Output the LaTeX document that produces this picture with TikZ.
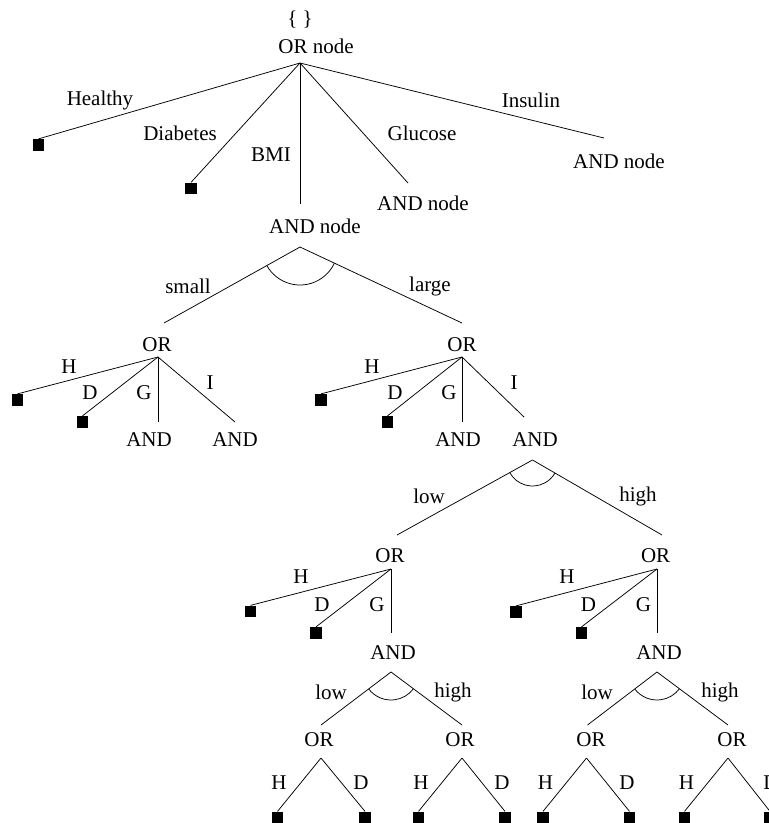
\documentclass[tikz,border=0pt]{standalone}
\usepackage{fontspec}
\setmainfont{Liberation Serif}
\usepackage{tikz}

\begin{document}
\begin{tikzpicture}[x=1pt,y=-1pt,line width=0.75pt]
 \useasboundingbox (0,0) rectangle (769,823);
 \clip (0,0) rectangle (769,823);
 \tikzstyle{every node} = [font=\fontsize{21}{25}\selectfont,inner sep=0pt]
 \tikzstyle{leaf} = [fill=black,minimum size=11.5pt]
 % root
 \node (braces) at (300,20) {\{ \}};
 \node (orTop) at (316,46) {OR node};
 \coordinate (orTopB) at (300,63);
 \node[leaf] (healthy) at (38.5,145) {};
 \node[leaf] (diabetes) at (191,188.5) {};
 \coordinate (bmiT) at (300,204);
 \node (bmi) at (315,226) {AND node};
 \coordinate (bmiB) at (300,247);
 \coordinate (gluT) at (408,183);
 \node (glu) at (423,203) {AND node};
 \coordinate (insT) at (604,138);
 \node (ins) at (619,161) {AND node};
 \node (tHealthy) at (100,100) {Healthy};
 \node (tDiabetes) at (180,133) {Diabetes};
 \node (tBmi) at (271,155) {BMI};
 \node (tGlucose) at (422,133) {Glucose};
 \node (tInsulin) at (531,100) {Insulin};
 \draw (orTopB) -- (healthy.north);
 \draw (orTopB) -- (diabetes.north);
 \draw (orTopB) -- (bmiT);
 \draw (orTopB) -- (gluT);
 \draw (orTopB) -- (insT);
 % BMI split
 \coordinate (smallT) at (164,323);
 \node (orS) at (157,345) {OR};
 \coordinate (orSB) at (158,357);
 \coordinate (largeT) at (462,323);
 \node (orL) at (462,345) {OR};
 \coordinate (orLB) at (462,357);
 \node (tSmall) at (188,286) {small};
 \node (tLarge) at (430,286) {large};
 \draw (bmiB) -- (smallT);
 \draw (bmiB) -- (largeT);
 \draw (bmiB) ++(150.8:38) arc[start angle=150.8,end angle=25.1,radius=38];
 % small BMI
 \node[leaf] (sH) at (17.5,400) {};
 \node[leaf] (sD) at (82.5,422) {};
 \coordinate (sGT) at (158,422);
 \node (sG) at (149,440) {AND};
 \coordinate (sIT) at (235,422);
 \node (sI) at (235,440) {AND};
 \node (tsH) at (69,367) {H};
 \node (tsD) at (90,393) {D};
 \node (tsG) at (144,393) {G};
 \node (tsI) at (210,383) {I};
 \draw (orSB) -- (sH.north);
 \draw (orSB) -- (sD.north);
 \draw (orSB) -- (sGT);
 \draw (orSB) -- (sIT);
 % large BMI
 \node[leaf] (lH) at (321,400) {};
 \node[leaf] (lD) at (387.5,422) {};
 \coordinate (lGT) at (462,422);
 \node (lG) at (458,440) {AND};
 \coordinate (lIT) at (524,417);
 \node (lI) at (535,440) {AND};
 \coordinate (lIB) at (532.5,460);
 \node (tlH) at (372,367) {H};
 \node (tlD) at (395,393) {D};
 \node (tlG) at (449,393) {G};
 \node (tlI) at (514,383) {I};
 \draw (orLB) -- (lH.north);
 \draw (orLB) -- (lD.north);
 \draw (orLB) -- (lGT);
 \draw (orLB) -- (lIT);
 % insulin split
 \coordinate (lowT) at (397,535);
 \node (orLo) at (390,556) {OR};
 \coordinate (orLoB) at (391,569);
 \coordinate (highT) at (662,535);
 \node (orHi) at (655.6,556) {OR};
 \coordinate (orHiB) at (657,569);
 \node (tLow) at (429,496) {low};
 \node (tHigh) at (638,496) {high};
 \draw (lIB) -- (lowT);
 \draw (lIB) -- (highT);
 \draw (lIB) ++(151:26) arc[start angle=151,end angle=30.1,radius=26];
 % low insulin
 \node[leaf] (loH) at (250.5,611.5) {};
 \node[leaf] (loD) at (316,633) {};
 \coordinate (loGT) at (391,633);
 \node (loG) at (393,653) {AND};
 \coordinate (loGB) at (391,672);
 \node (tloH) at (301,577) {H};
 \node (tloD) at (322,605) {D};
 \node (tloG) at (377,605) {G};
 \draw (orLoB) -- (loH.north);
 \draw (orLoB) -- (loD.north);
 \draw (orLoB) -- (loGT);
 % high insulin
 \node[leaf] (hiH) at (516,612) {};
 \node[leaf] (hiD) at (581.5,633) {};
 \coordinate (hiGT) at (657,633);
 \node (hiG) at (659,653) {AND};
 \coordinate (hiGB) at (657,672);
 \node (thiH) at (567,577) {H};
 \node (thiD) at (588.5,605) {D};
 \node (thiG) at (643.5,605) {G};
 \draw (orHiB) -- (hiH.north);
 \draw (orHiB) -- (hiD.north);
 \draw (orHiB) -- (hiGT);
 % glucose under low insulin
 \coordinate (aT) at (321,725);
 \node (orA) at (319,740) {OR};
 \coordinate (orAB) at (321,758);
 \coordinate (bT) at (462,725);
 \node (orB) at (460,740) {OR};
 \coordinate (orBB) at (462,758);
 \node (taLow) at (331,692) {low};
 \node (tbHigh) at (453,692) {high};
 \draw (loGB) -- (aT);
 \draw (loGB) -- (bT);
 \draw (loGB) ++(142.9:28) arc[start angle=142.9,end angle=36.7,radius=28];
 % glucose under high insulin
 \coordinate (cT) at (587.5,725);
 \node (orC) at (591,740) {OR};
 \coordinate (orCB) at (586.5,758);
 \coordinate (dT) at (728,725);
 \node (orD) at (732,740) {OR};
 \coordinate (orDB) at (728,758);
 \node (tcLow) at (597,692) {low};
 \node (tdHigh) at (720,692) {high};
 \draw (hiGB) -- (cT);
 \draw (hiGB) -- (dT);
 \draw (hiGB) ++(142.7:28) arc[start angle=142.7,end angle=36.7,radius=28];
 % bottom leaves
 \node[leaf] (aH) at (277.5,817.5) {};
 \node[leaf] (aD) at (365,817.5) {};
 \node[leaf] (bH) at (418.5,817.5) {};
 \node[leaf] (bD) at (505,817.5) {};
 \node[leaf] (cH) at (543,817.5) {};
 \node[leaf] (cD) at (629.5,817.5) {};
 \node[leaf] (dH) at (684.5,817.5) {};
 \node[leaf] (dD) at (770,817.5) {};
 \node (taH) at (279,783) {H};
 \node (taD) at (361,783) {D};
 \node (tbH) at (421,783) {H};
 \node (tbD) at (502,783) {D};
 \node (tcH) at (545.5,783) {H};
 \node (tcD) at (627,783) {D};
 \node (tdH) at (686.5,783) {H};
 \node (tdD) at (771,783) {D};
 \draw (orAB) -- (aH.north);
 \draw (orAB) -- (aD.north);
 \draw (orBB) -- (bH.north);
 \draw (orBB) -- (bD.north);
 \draw (orCB) -- (cH.north);
 \draw (orCB) -- (cD.north);
 \draw (orDB) -- (dH.north);
 \draw (orDB) -- (dD.north);
\end{tikzpicture}
\end{document}
